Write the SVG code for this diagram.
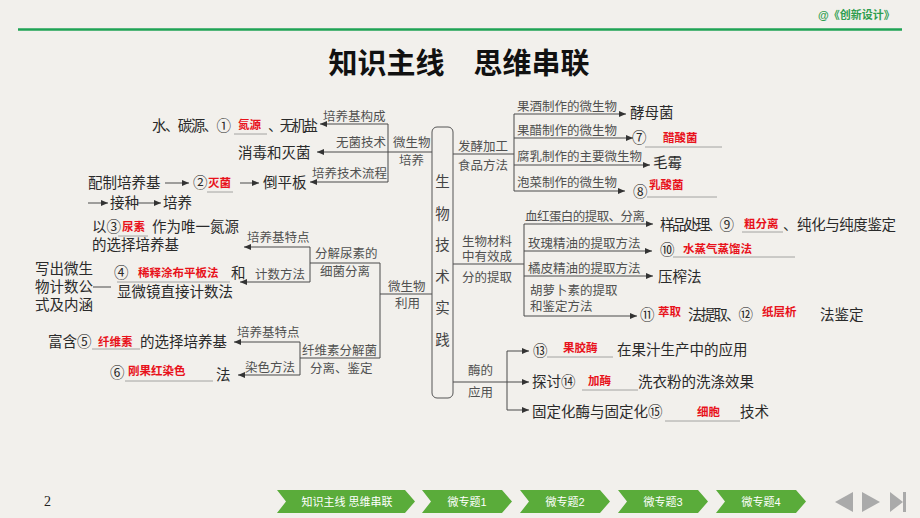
<svg xmlns="http://www.w3.org/2000/svg" width="920" height="518" viewBox="0 0 920 518">
<defs>
<marker id="ah" markerUnits="userSpaceOnUse" markerWidth="7" markerHeight="6" refX="7" refY="3" orient="auto"><path d="M0,0 L7,3 L0,6 z" fill="#333"/></marker>
<style>
text{font-family:"Liberation Sans","Noto Sans CJK SC",sans-serif}
.m{font-size:14.5px;fill:#2a2a2a}
.l{font-size:12.5px;fill:#505050}
.r{font-size:11.5px;font-weight:bold;fill:#e8121b}
.c{font-size:14.5px;fill:#444;text-anchor:middle}
.ln{stroke:#4a4a4a;stroke-width:1;fill:none}
.ar{marker-end:url(#ah)}
.ul{stroke:#9a9a9a;stroke-width:0.9;fill:none}
.nav{fill:#5aac3a}
.nt{font-size:11px;fill:#fff;text-anchor:middle}
.btn{fill:#aaaaaa}
</style>
</defs>
<rect width="920" height="518" fill="#f2f0ec"/>
<g id="header">
<text x="818" y="19" style="font-size:11px;font-weight:bold;fill:#2f9e4f">@《创新设计》</text>
<line x1="18" y1="29.5" x2="902" y2="29.5" stroke="#1fa355" stroke-width="2.5"/>
<text x="459" y="74" text-anchor="middle" style="font-size:29px;font-weight:bold;fill:#111">知识主线　思维串联</text>
</g>

<g id="connectors">
<path class="ln" d="M432,152 H388 M388,124 V182"/>
<path class="ln ar" d="M388,124 H320"/>
<path class="ln ar" d="M388,152 H317"/>
<path class="ln ar" d="M388,182 H310"/>
<path class="ln ar" d="M165,183 H189"/>
<path class="ln ar" d="M240,183 H259"/>
<path class="ln ar" d="M88,203 H108"/>
<path class="ln ar" d="M137,203 H161"/>
<path class="ln" d="M432,294 H380 M380,263 V358 M380,263 H310 M310,247 V282"/>
<path class="ln ar" d="M310,247 H244"/>
<path class="ln ar" d="M310,282 H240"/>
<path class="ln" d="M380,358 H300 M300,342 V375"/>
<path class="ln ar" d="M300,342 H234"/>
<path class="ln ar" d="M300,375 H238"/>
<path class="ln" d="M93,287 H111"/>
<path class="ln" d="M453,154 H514 M514,114 V191"/>
<path class="ln ar" d="M514,114 H626"/>
<path class="ln ar" d="M514,138 H633"/>
<path class="ln ar" d="M514,165 H650"/>
<path class="ln ar" d="M514,191 H625"/>
<path class="ln" d="M453,264 H524 M524,224 V316"/>
<path class="ln ar" d="M524,224 H653"/>
<path class="ln ar" d="M524,251 H652"/>
<path class="ln ar" d="M524,276 H653"/>
<path class="ln ar" d="M524,316 H637"/>
<path class="ln" d="M453,382 H507 M507,351 V410"/>
<path class="ln ar" d="M507,351 H529"/>
<path class="ln ar" d="M507,382 H529"/>
<path class="ln ar" d="M507,410 H529"/>
</g>

<g id="center">
<rect x="432" y="127" width="21" height="271" rx="5" fill="none" stroke="#555" stroke-width="1"/>
<text class="c" x="442.5" y="187">生</text>
<text class="c" x="442.5" y="218.5">物</text>
<text class="c" x="442.5" y="250">技</text>
<text class="c" x="442.5" y="281.5">术</text>
<text class="c" x="442.5" y="313">实</text>
<text class="c" x="442.5" y="344.5">践</text>
</g>

<g id="culture">
<text class="l" x="393" y="147">微生物</text>
<text class="l" x="399" y="164.5">培养</text>
<text class="l" x="323" y="120.5">培养基构成</text>
<text class="l" x="336" y="147">无菌技术</text>
<text class="l" x="312" y="177.5">培养技术流程</text>
<text class="m" x="152" y="131" textLength="79" lengthAdjust="spacing">水、碳源、①</text>
<text class="r" x="238" y="129">氮源</text>
<path class="ul" d="M234,134 H267"/>
<text class="m" x="268" y="131" textLength="50" lengthAdjust="spacing">、无机盐</text>
<text class="m" x="238" y="158">消毒和灭菌</text>
<text class="m" x="88" y="188">配制培养基</text>
<text class="m" x="193" y="188">②</text>
<text class="r" x="208" y="187">灭菌</text>
<path class="ul" d="M207,192 H233"/>
<text class="m" x="263" y="188">倒平板</text>
<text class="m" x="110" y="208">接种</text>
<text class="m" x="163" y="208">培养</text>
</g>

<g id="usage">
<text class="l" x="388" y="290.5">微生物</text>
<text class="l" x="395" y="307.5">利用</text>
<text class="l" x="315" y="257.5">分解尿素的</text>
<text class="l" x="320" y="275.5">细菌分离</text>
<text class="l" x="247" y="241.5">培养基特点</text>
<text class="l" x="255" y="278.5">计数方法</text>
<text class="m" x="92" y="232">以③</text>
<text class="r" x="122" y="231">尿素</text>
<path class="ul" d="M118,236 H148"/>
<text class="m" x="152" y="232">作为唯一氮源</text>
<text class="m" x="92" y="250">的选择培养基</text>
<text class="m" x="35" y="274">写出微生</text>
<text class="m" x="35" y="292">物计数公</text>
<text class="m" x="35" y="310">式及内涵</text>
<text class="m" x="114" y="278">④</text>
<text class="r" x="138" y="277">稀释涂布平板法</text>
<text class="m" x="231" y="278">和</text>
<path class="ul" d="M117,282 H230"/>
<text class="m" x="117" y="297">显微镜直接计数法</text>
<text class="l" x="302" y="355">纤维素分解菌</text>
<text class="l" x="310" y="372.5">分离、鉴定</text>
<text class="l" x="237" y="337">培养基特点</text>
<text class="l" x="245" y="371.5">染色方法</text>
<text class="m" x="48" y="347">富含⑤</text>
<text class="r" x="98" y="346">纤维素</text>
<path class="ul" d="M92,349 H140"/>
<text class="m" x="140" y="347">的选择培养基</text>
<text class="m" x="110" y="378">⑥</text>
<text class="r" x="128" y="375">刚果红染色</text>
<path class="ul" d="M125,381 H213"/>
<text class="m" x="216" y="380">法</text>
</g>

<g id="fermentation">
<text class="l" x="458" y="151">发酵加工</text>
<text class="l" x="458" y="169.5">食品方法</text>
<text class="l" x="517" y="111">果酒制作的微生物</text>
<text class="l" x="517" y="135">果醋制作的微生物</text>
<text class="l" x="517" y="160.5">腐乳制作的主要微生物</text>
<text class="l" x="517" y="186.5">泡菜制作的微生物</text>
<text class="m" x="630" y="118">酵母菌</text>
<text class="m" x="632" y="143">⑦</text>
<text class="r" x="663" y="142">醋酸菌</text>
<path class="ul" d="M645,147 H722"/>
<text class="m" x="653" y="168">毛霉</text>
<text class="m" x="633" y="197">⑧</text>
<text class="r" x="649" y="189">乳酸菌</text>
<path class="ul" d="M647,197 H717"/>
</g>

<g id="extraction">
<text class="l" x="462" y="245.5">生物材料</text>
<text class="l" x="462" y="260.5">中有效成</text>
<text class="l" x="462" y="281.5">分的提取</text>
<text class="l" x="525" y="221" textLength="120" lengthAdjust="spacing">血红蛋白的提取、分离</text>
<text class="l" x="528" y="247.5">玫瑰精油的提取方法</text>
<text class="l" x="528" y="273">橘皮精油的提取方法</text>
<text class="l" x="530" y="295">胡萝卜素的提取</text>
<text class="l" x="530" y="311">和鉴定方法</text>
<text class="m" x="660" y="230" textLength="74" lengthAdjust="spacing">样品处理、⑨</text>
<text class="r" x="744" y="228">粗分离</text>
<path class="ul" d="M742,232 H783"/>
<text class="m" x="783" y="230" textLength="113" lengthAdjust="spacing">、纯化与纯度鉴定</text>
<text class="m" x="660" y="255">⑩</text>
<text class="r" x="683" y="253">水蒸气蒸馏法</text>
<path class="ul" d="M673,257 H795"/>
<text class="m" x="658" y="282">压榨法</text>
<text class="m" x="640" y="320">⑪</text>
<text class="r" x="658" y="316">萃取</text>
<text class="m" x="688" y="320" textLength="65" lengthAdjust="spacing">法提取、⑫</text>
<text class="r" x="762" y="316">纸层析</text>
<text class="m" x="820" y="320">法鉴定</text>
</g>

<g id="enzyme">
<text class="l" x="468" y="374.5">酶的</text>
<text class="l" x="468" y="396.5">应用</text>
<text class="m" x="533" y="356">⑬</text>
<text class="r" x="563" y="352">果胶酶</text>
<path class="ul" d="M547,357 H613"/>
<text class="m" x="617" y="355">在果汁生产中的应用</text>
<text class="m" x="532" y="387">探讨⑭</text>
<text class="r" x="588" y="385">加酶</text>
<path class="ul" d="M582,390 H638"/>
<text class="m" x="638" y="387">洗衣粉的洗涤效果</text>
<text class="m" x="532" y="417">固定化酶与固定化⑮</text>
<text class="r" x="697" y="416">细胞</text>
<path class="ul" d="M665,421 H740"/>
<text class="m" x="740" y="417">技术</text>
</g>

<g id="footer">
<text x="44" y="506" style="font-family:'Liberation Serif',serif;font-size:14px;fill:#222">2</text>
<polygon class="nav" points="277,490 405,490 415,501.5 405,513 277,513 286,501.5"/>
<text class="nt" x="347" y="505.5">知识主线  思维串联</text>
<polygon class="nav" points="422,490 502,490 512,501.5 502,513 422,513 431,501.5"/>
<text class="nt" x="467" y="505.5">微专题1</text>
<polygon class="nav" points="520,490 600,490 610,501.5 600,513 520,513 529,501.5"/>
<text class="nt" x="565" y="505.5">微专题2</text>
<polygon class="nav" points="618,490 698,490 708,501.5 698,513 618,513 627,501.5"/>
<text class="nt" x="663" y="505.5">微专题3</text>
<polygon class="nav" points="716,490 796,490 806,501.5 796,513 716,513 725,501.5"/>
<text class="nt" x="761" y="505.5">微专题4</text>
<polygon class="btn" points="853,492 853,512 835,502"/>
<polygon class="btn" points="862,492 862,512 880,502"/>
<polygon class="btn" points="890,492 890,512 903,502"/>
<rect class="btn" x="903" y="492" width="3" height="20"/>
</g>
</svg>
